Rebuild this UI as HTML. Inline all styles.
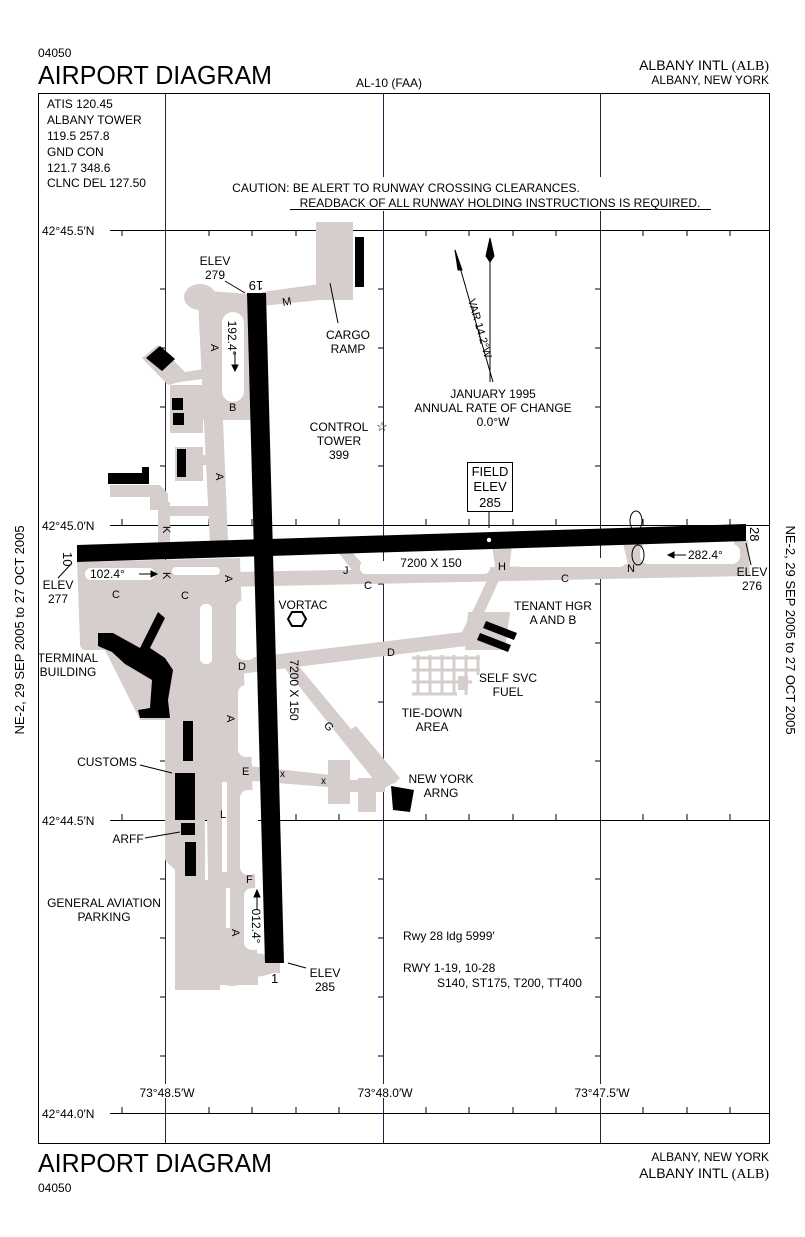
<!DOCTYPE html>
<html><head><meta charset="utf-8"><style>
html,body{margin:0;padding:0;background:#fff}
svg{display:block}
text{font-family:"Liberation Sans",sans-serif;fill:#000}
</style></head><body>
<svg width="805" height="1237" viewBox="0 0 805 1237" xmlns="http://www.w3.org/2000/svg">
<rect width="805" height="1237" fill="#fff"/>
<text x="38" y="57" font-size="12">04050</text>
<text x="38" y="84" font-size="26" textLength="234" lengthAdjust="spacingAndGlyphs">AIRPORT DIAGRAM</text>
<text x="356" y="87" font-size="12">AL-10 (FAA)</text>
<text x="769" y="70" font-size="14" text-anchor="end">ALBANY INTL <tspan font-family="Liberation Serif">(ALB)</tspan></text>
<text x="769" y="84" font-size="12" text-anchor="end">ALBANY, NEW YORK</text>
<text x="38" y="1172" font-size="26" textLength="234" lengthAdjust="spacingAndGlyphs">AIRPORT DIAGRAM</text>
<text x="38" y="1192" font-size="12">04050</text>
<text x="769" y="1161" font-size="12" text-anchor="end">ALBANY, NEW YORK</text>
<text x="769" y="1178" font-size="14" text-anchor="end">ALBANY INTL <tspan font-family="Liberation Serif">(ALB)</tspan></text>
<text transform="translate(24,630) rotate(-90)" font-size="13" text-anchor="middle">NE-2, 29 SEP 2005 to 27 OCT 2005</text>
<text transform="translate(786,630) rotate(90)" font-size="13" text-anchor="middle">NE-2, 29 SEP 2005 to 27 OCT 2005</text>

<g stroke="#000" stroke-width="1" fill="none">
<rect x="38.5" y="93.5" width="731" height="1050"/>
<line x1="165.5" y1="93" x2="165.5" y2="1143" stroke="#302040"/>
<line x1="383.5" y1="93" x2="383.5" y2="1143" stroke="#302040"/>
<line x1="600.5" y1="93" x2="600.5" y2="1143" stroke="#302040"/>
<line x1="110" y1="230.5" x2="769" y2="230.5"/>
<line x1="110" y1="525.5" x2="769" y2="525.5"/>
<line x1="110" y1="820.5" x2="769" y2="820.5"/>
<line x1="110" y1="1113.5" x2="769" y2="1113.5"/>
</g>
<g stroke="#000" stroke-width="1">
<path d="M122 230v6M209 230v6M252 230v6M296 230v6M339 230v6M426 230v6M469 230v6M513 230v6M556 230v6M643 230v6M687 230v6M730 230v6
M122 525v-6M209 525v-6M252 525v-6M296 525v-6M339 525v-6M426 525v-6M469 525v-6M513 525v-6M556 525v-6M643 525v-6M687 525v-6M730 525v-6
M122 820v-6M209 820v-6M252 820v-6M296 820v-6M339 820v-6M426 820v-6M469 820v-6M513 820v-6M556 820v-6M643 820v-6M687 820v-6M730 820v-6
M122 1113v-6M209 1113v-6M252 1113v-6M296 1113v-6M339 1113v-6M426 1113v-6M469 1113v-6M513 1113v-6M556 1113v-6M643 1113v-6M687 1113v-6M730 1113v-6
M160 289h5M160 348h5M160 407h5M160 466h5M160 584h5M160 643h5M160 702h5M160 761h5M160 879h5M160 938h5M160 997h5M160 1056h5
M378 289h5M378 348h5M378 407h5M378 466h5M378 584h5M378 643h5M378 702h5M378 761h5M378 879h5M378 938h5M378 997h5M378 1056h5
M595 289h5M595 348h5M595 407h5M595 466h5M595 584h5M595 643h5M595 702h5M595 761h5M595 879h5M595 938h5M595 997h5M595 1056h5"/>
</g>
<g fill="#fff">
<rect x="134" y="1084" width="66" height="14"/>
<rect x="352" y="1084" width="66" height="14"/>
<rect x="569" y="1084" width="66" height="14"/>
</g>
<g font-size="12">
<text x="42" y="235">42°45.5′N</text>
<text x="42" y="530">42°45.0′N</text>
<text x="42" y="825">42°44.5′N</text>
<text x="42" y="1118">42°44.0′N</text>
<text x="167" y="1097" text-anchor="middle">73°48.5′W</text>
<text x="385" y="1097" text-anchor="middle">73°48.0′W</text>
<text x="602" y="1097" text-anchor="middle">73°47.5′W</text>
</g>

<rect x="40" y="95" width="124" height="95" fill="#fff"/>
<g font-size="12">
<text x="47" y="108">ATIS 120.45</text>
<text x="47" y="124">ALBANY TOWER</text>
<text x="47" y="140">119.5  257.8</text>
<text x="47" y="156">GND CON</text>
<text x="47" y="172">121.7  348.6</text>
<text x="47" y="187">CLNC DEL 127.50</text>
</g>
<rect x="215" y="177" width="500" height="34" fill="#fff"/>
<text x="406" y="192" font-size="12" text-anchor="middle">CAUTION: BE ALERT TO RUNWAY CROSSING CLEARANCES.</text>
<text x="500" y="207" font-size="12" text-anchor="middle">READBACK OF ALL RUNWAY HOLDING INSTRUCTIONS IS REQUIRED.</text>
<line x1="290" y1="209.5" x2="711" y2="209.5" stroke="#000"/>

<g fill="#d6cdcd" stroke="none">
<rect x="316" y="222" width="37" height="78"/>
<polygon points="262,292 320,284 320,300 262,306"/>
<ellipse cx="200" cy="297" rx="16" ry="13"/>
<polygon points="195,290 248,294 248,308 205,312"/>
<polygon points="198,300 218,300 228,540 210,545"/>
<polygon points="215,305 250,300 252,420 215,420"/>
<polygon points="142,358 158,345 185,372 210,368 210,378 180,382 168,385"/>
<rect x="170" y="385" width="33" height="48"/>
<rect x="200" y="400" width="15" height="10"/>
<rect x="200" y="408" width="50" height="12"/>
<rect x="175" y="447" width="28" height="34"/>
<rect x="200" y="455" width="18" height="10"/>
<polygon points="110,485 160,485 168,494 168,510 150,510 150,497 110,497"/>
<rect x="158" y="502" width="12" height="48"/>
<rect x="165" y="506" width="58" height="10"/>
<polygon points="77,562 240,558 240,575 228,600 215,600 213,820 205,820 205,985 175,990 175,870 165,860 165,720 140,720 100,640 80,640"/>
<rect x="80" y="565" width="85" height="85" rx="6"/>
<polygon points="200,600 240,600 244,700 205,700"/>
<polygon points="215,560 240,560 255,985 238,985"/>
<polygon points="205,700 250,700 258,985 210,985"/>
<ellipse cx="250" cy="965" rx="30" ry="12"/>
<rect x="240" y="955" width="40" height="18"/>
<polygon points="80,575 748,562 748,576 80,590"/>
<polygon points="734,540 748,540 750,575 736,575"/>
<polygon points="338,552 352,552 372,575 358,578"/>
<polygon points="492,546 512,545 509,572 496,572"/>
<polygon points="622,539 642,538 648,572 630,573"/>
<polygon points="488,578 500,578 480,622 470,640 458,640 476,604"/>
<polygon points="468,612 510,612 505,650 465,650"/>
<polygon points="230,660 480,630 482,644 232,675"/>
<polygon points="278,660 292,658 395,782 382,790"/>
<polygon points="350,730 356,726 400,778 394,784"/>
<polygon points="240,765 340,776 340,788 240,780"/>
<rect x="328" y="760" width="22" height="44"/>
<rect x="358" y="778" width="18" height="34"/>
<rect x="345" y="780" width="40" height="12"/>
<rect x="175" y="880" width="45" height="110"/>
<ellipse cx="232" cy="972" rx="22" ry="14"/>
<g stroke="#d6cdcd" stroke-width="3" fill="none">
<path d="M412 658h68M412 670h68M412 682h60M412 694h45M418 655v40M430 655v40M442 655v40M454 655v40M466 655v40M478 655v20"/>
<path d="M175 930h45M175 942h45M175 954h45M182 925v35M194 925v35M206 925v35"/>
</g>
<rect x="458" y="676" width="10" height="14"/>
</g>
<g fill="#fff">
<rect x="222" y="312" width="22" height="90" rx="11"/>
<rect x="85" y="568" width="70" height="12" rx="6"/>
<rect x="172" y="567" width="48" height="8" rx="4"/>
<rect x="200" y="604" width="12" height="60" rx="5"/>
<rect x="236" y="600" width="20" height="60" rx="8"/>
<rect x="238" y="685" width="20" height="72" rx="8"/>
<rect x="240" y="790" width="18" height="85" rx="8"/>
<rect x="244" y="888" width="18" height="62" rx="8"/>
<rect x="222" y="782" width="5" height="90"/>
<rect x="226" y="888" width="4" height="40"/>
<rect x="640" y="544" width="100" height="20" rx="8"/>
<rect x="360" y="561" width="130" height="13" rx="6"/>
<rect x="515" y="558" width="110" height="9" rx="5"/>
</g>

<polygon points="247,293 266,293 284,963 265,963" fill="#000"/>
<polygon points="77,545 746,524 746,541 77,562" fill="#000"/>
<circle cx="489" cy="540" r="2.2" fill="#fff"/>

<g fill="#000">
<rect x="355" y="237" width="9" height="50"/>
<polygon points="146,358 160,346 175,359 162,371"/>
<rect x="172" y="398" width="11" height="12"/>
<rect x="173" y="413" width="11" height="12"/>
<rect x="177" y="449" width="9" height="28"/>
<polygon points="108,473 142,473 142,467 149,467 149,484 108,484"/>
<polygon points="158,612 165,618 150,648 165,658 173,670 168,700 170,718 140,718 138,710 150,708 152,680 125,664 112,652 98,646 98,633 113,633 140,648"/>
<rect x="183" y="721" width="10" height="40"/>
<rect x="175" y="773" width="20" height="47"/>
<rect x="181" y="823" width="14" height="12"/>
<rect x="185" y="842" width="11" height="34"/>
<polygon points="391,786 414,790 410,812 393,810"/>
<polygon points="486,621 517,633 514,640 483,628"/>
<polygon points="480,633 511,645 508,652 477,640"/>
</g>

<g font-size="12">
<text transform="translate(256,281) rotate(180)" font-size="13" text-anchor="middle">19</text>
<text x="271" y="983" font-size="13">1</text>
<text transform="translate(63,552) rotate(90)" font-size="13">10</text>
<text transform="translate(750,527) rotate(90)" font-size="13">28</text>
<text x="431" y="567" text-anchor="middle">7200 X 150</text>
<text transform="translate(290,690) rotate(90)" text-anchor="middle">7200 X 150</text>
<text transform="translate(228,338) rotate(90)" text-anchor="middle">192.4°</text>
<text transform="translate(252,926) rotate(90)" text-anchor="middle">012.4°</text>
<text x="90" y="578">102.4°</text>
<text x="688" y="559">282.4°</text>
</g>
<g stroke="#000" stroke-width="1" fill="#000">
<path d="M235 352v15" /><polygon points="232,365 238,365 235,371"/>
<path d="M257 895v15"/><polygon points="254,897 260,897 257,890"/>
<path d="M139 574h14"/><polygon points="151,571 151,577 157,574"/>
<path d="M672 555h14"/><polygon points="674,552 674,558 668,555"/>
</g>
<g font-size="11">
<text x="211" y="352" transform="rotate(90 215 348)">A</text>
<text x="216" y="481" transform="rotate(90 220 477)">A</text>
<text x="225" y="583" transform="rotate(90 229 579)">A</text>
<text x="227" y="723" transform="rotate(90 231 719)">A</text>
<text x="232" y="937" transform="rotate(90 236 933)">A</text>
<text x="163" y="534" transform="rotate(90 167 530)">K</text>
<text x="163" y="580" transform="rotate(90 167 576)">K</text>
<text x="229" y="411">B</text>
<text x="282" y="305" transform="rotate(-10 288 300)">M</text>
<text x="112" y="598">C</text>
<text x="181" y="599">C</text>
<text x="364" y="589">C</text>
<text x="561" y="582">C</text>
<text x="343" y="574">J</text>
<text x="498" y="570">H</text>
<text x="627" y="572">N</text>
<text x="238" y="670">D</text>
<text x="387" y="656">D</text>
<text x="242" y="775">E</text>
<text x="325" y="730" transform="rotate(50 329 726)">G</text>
<text x="246" y="883">F</text>
<text x="220" y="818">L</text>
<text x="280" y="777" font-size="10">x</text>
<text x="321" y="784" font-size="10">x</text>
</g>

<g font-size="12" text-anchor="middle">
<text x="215" y="265">ELEV</text><text x="215" y="279">279</text>
<text x="348" y="339">CARGO</text><text x="348" y="353">RAMP</text>
<text x="339" y="431">CONTROL</text><text x="339" y="445">TOWER</text><text x="339" y="459">399</text>
<text x="493" y="398">JANUARY 1995</text><text x="493" y="412">ANNUAL RATE OF CHANGE</text><text x="493" y="426">0.0°W</text>
<text x="303" y="609">VORTAC</text>
<text x="553" y="610">TENANT HGR</text><text x="553" y="624">A AND B</text>
<text x="508" y="682">SELF SVC</text><text x="508" y="696">FUEL</text>
<text x="432" y="717">TIE-DOWN</text><text x="432" y="731">AREA</text>
<text x="441" y="783">NEW YORK</text><text x="441" y="797">ARNG</text>
<text x="68" y="662">TERMINAL</text><text x="68" y="676">BUILDING</text>
<text x="107" y="766">CUSTOMS</text>
<text x="128" y="843">ARFF</text>
<text x="104" y="907">GENERAL AVIATION</text><text x="104" y="921">PARKING</text>
<text x="325" y="977">ELEV</text><text x="325" y="991">285</text>
<text x="58" y="589">ELEV</text><text x="58" y="603">277</text>
<text x="752" y="576">ELEV</text><text x="752" y="590">276</text>
</g>
<g font-size="12">
<text x="403" y="940">Rwy 28 ldg 5999′</text>
<text x="403" y="972">RWY 1-19, 10-28</text>
<text x="437" y="987">S140, ST175, T200, TT400</text>
</g>
<rect x="467.5" y="462.5" width="45" height="49" fill="#fff" stroke="#000"/>
<g font-size="13" text-anchor="middle">
<text x="490" y="476">FIELD</text><text x="490" y="491">ELEV</text><text x="490" y="507">285</text>
</g>
<line x1="489" y1="512" x2="489" y2="528" stroke="#000"/>
<g stroke="#000" stroke-width="1" fill="none">
<path d="M225 281L245 293"/>
<path d="M338 323L330 283"/>
<path d="M140 765L172 773"/>
<path d="M145 838L180 832"/>
<path d="M306 968L288 963"/>
<path d="M58 578L72 563"/>
<path d="M751 565L746 543"/>
<ellipse cx="636" cy="521" rx="6" ry="10"/>
<ellipse cx="638" cy="555" rx="6" ry="10"/>
</g>
<polygon points="292,612 302,612 306,619 302,626 292,626 288,619" fill="none" stroke="#000" stroke-width="2"/>
<text x="382" y="431" font-size="13" text-anchor="middle">☆</text>
<g stroke="#000" stroke-width="1" fill="#000">
<line x1="490" y1="255" x2="490" y2="382"/>
<polygon points="490,238 494,256 490,262 486,256"/>
<line x1="455" y1="250" x2="493" y2="382"/>
<polygon points="455,250 462,270 458,270"/>
</g>
<text transform="translate(468,300) rotate(74)" font-size="11">VAR 14.2°W</text>
</svg>
</body></html>
